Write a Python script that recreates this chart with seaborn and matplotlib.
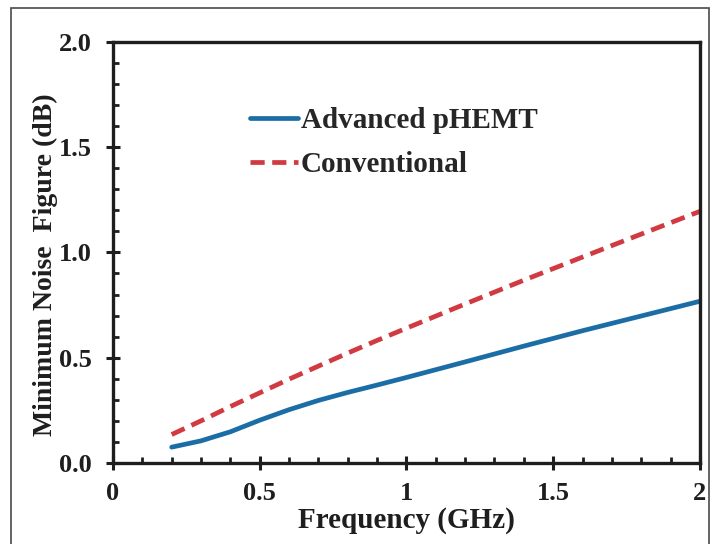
import pandas as pd
import seaborn as sns
import matplotlib.pyplot as plt
from matplotlib.ticker import MultipleLocator
from matplotlib.patches import Rectangle

# values
freq = [0.2, 0.3, 0.4, 0.5, 0.6, 0.7, 0.8, 0.9, 1.0, 1.2, 1.4, 1.6, 1.8, 2.0]
nf_advanced = [0.075, 0.105, 0.148, 0.203, 0.253, 0.297, 0.335, 0.370, 0.406,
               0.480, 0.555, 0.628, 0.698, 0.768]
nf_conventional = [0.135, 0.200, 0.268, 0.333, 0.398, 0.460, 0.522, 0.582, 0.640,
                   0.755, 0.868, 0.978, 1.087, 1.195]
series_names = ['Advanced pHEMT', 'Conventional']
x_ticks = [0, 0.5, 1, 1.5, 2]
x_ticklabels = ['0', '0.5', '1', '1.5', '2']
y_ticks = [0.0, 0.5, 1.0, 1.5, 2.0]
y_ticklabels = ['0.0', '0.5', '1.0', '1.5', '2.0']

df = pd.DataFrame({
    'Frequency': freq * 2,
    'NF': nf_advanced + nf_conventional,
    'Device': [series_names[0]] * len(freq) + [series_names[1]] * len(freq),
})

sns.set_style('white')
plt.rcParams['font.family'] = ['Liberation Serif', 'DejaVu Serif']
plt.rcParams['font.weight'] = 'bold'
text_col = '#1e1e1e'

fig = plt.figure(figsize=(7.12, 5.44), dpi=100)
ax = fig.add_axes([0.1587, 0.149, 0.8243, 0.774])

sns.lineplot(data=df, x='Frequency', y='NF', hue='Device', style='Device',
             palette={series_names[0]: '#1b6ea5', series_names[1]: '#d03a40'},
             dashes={series_names[0]: '', series_names[1]: (3, 1.6)},
             linewidth=3.4, ax=ax)

ax.set_xlim(0, 2)
ax.set_ylim(0, 2)
ax.set_xticks(x_ticks)
ax.set_xticklabels(x_ticklabels)
ax.set_yticks(y_ticks)
ax.set_yticklabels(y_ticklabels)
ax.xaxis.set_minor_locator(MultipleLocator(0.1))
ax.yaxis.set_minor_locator(MultipleLocator(0.1))
ax.tick_params(which='both', bottom=True, left=True, top=False, right=False)
ax.tick_params(which='major', direction='inout', length=10, width=2.2,
               labelsize=19, colors=text_col)
ax.tick_params(which='minor', direction='in', length=4, width=2, colors=text_col)
ax.tick_params(axis='y', which='major', pad=10)
ax.tick_params(axis='x', which='major', pad=9)
for lab in ax.get_xticklabels() + ax.get_yticklabels():
    lab.set_fontweight('bold')

for s in ax.spines.values():
    s.set_visible(True)
    s.set_linewidth(2.4)
    s.set_color(text_col)

ax.set_xlabel('Frequency (GHz)', fontsize=21, fontweight='bold', color=text_col, labelpad=1.5)
ax.set_ylabel('Minimum Noise  Figure (dB)', fontsize=20, fontweight='bold',
              color=text_col, labelpad=1)
ax.yaxis.label.set_y(0.47)

ax.legend(loc='upper left', bbox_to_anchor=(0.233, 0.845), frameon=False,
          handlelength=1.65, handletextpad=0.1, labelspacing=0.58,
          borderpad=0, borderaxespad=0,
          prop={'family': 'Liberation Serif', 'weight': 'bold', 'size': 21})

# thin frame around the figure (cropped at the bottom in the original)
fig.patches.append(Rectangle((11 / 712, -0.02), 698 / 712, 1.005, transform=fig.transFigure,
                             fill=False, edgecolor='#4a4a4a', linewidth=1.2))

fig.savefig('out.png', dpi=100)
